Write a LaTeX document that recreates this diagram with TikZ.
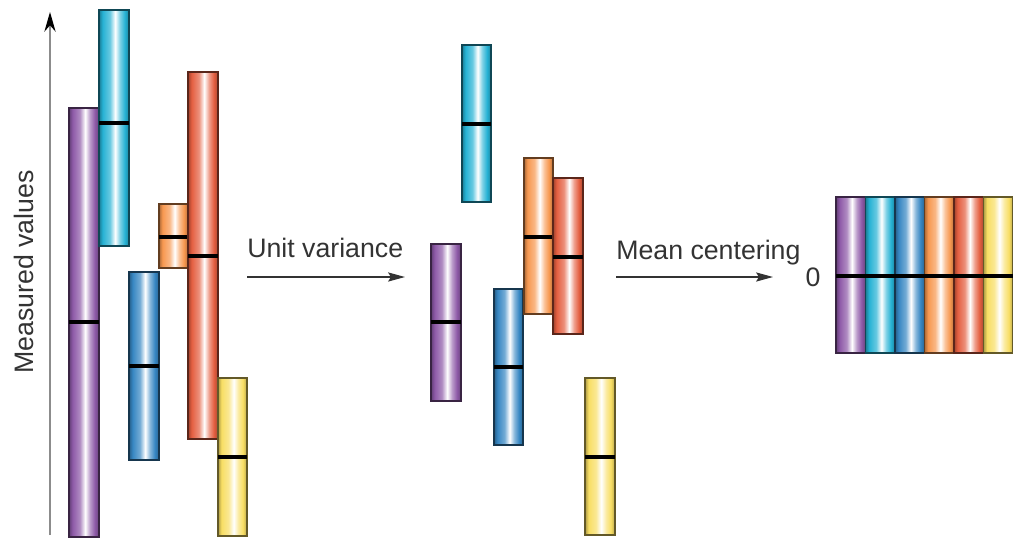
\documentclass[tikz,border=0pt]{standalone}
\usepackage{fontspec}
\setmainfont{Liberation Sans}
\usetikzlibrary{arrows.meta}

\definecolor{mpurple}{RGB}{142,90,168}
\definecolor{mcyan}{RGB}{38,178,212}
\definecolor{mblue}{RGB}{55,135,195}
\definecolor{morange}{RGB}{247,152,80}
\definecolor{mred}{RGB}{228,95,65}
\definecolor{myellow}{RGB}{248,222,100}
\colorlet{barc}{mpurple}

\pgfdeclarehorizontalshading[barc]{barshade}{100bp}{color(0bp)=(barc!70!black); color(25bp)=(barc!70!black); color(31bp)=(barc); color(43bp)=(barc!70!white); color(52bp)=(white); color(60bp)=(barc!60!white); color(68bp)=(barc); color(75bp)=(barc!75!black); color(100bp)=(barc!75!black)}

\tikzset{
	barcol/.code={\colorlet{barc}{#1}},
	bar/.style={barcol=#1, shading=barshade, draw=#1!40!black, line width=0.9pt},
	meanline/.style={line width=2.5pt, black},
	axisline/.style={line width=1pt, black!45, -{Stealth[length=14pt, width=8pt, fill=black, color=black]}},
	flow/.style={line width=1pt, black!80, -{Stealth[length=12pt, width=6.5pt, inset=2pt]}},
	labeltext/.style={font=\fontsize{19}{23}\selectfont, text=black!80, inner sep=0pt}
}

\begin{document}
\begin{tikzpicture}[x=0.025cm, y=-0.025cm]
	\useasboundingbox (0,0) rectangle (1013,539);
	\coordinate (axis foot) at (50,535);
	\coordinate (axis head) at (50,12);
	\draw [axisline] (axis foot) -- (axis head);
	\node [labeltext, rotate=90] (measured) at (24,272) {Measured values};

	\foreach \c/\xa/\xb/\ya/\ym/\yb in {mpurple/69/99/108/322/537, mcyan/99/129/10/123/246, mblue/129/159/272/366/460, morange/159/188/204/237/268, mred/188/218/72/256/439, myellow/218/247/378/457/536}
	{
		\shadedraw [bar=\c] (\xa,\ya) rectangle (\xb,\yb);
		\draw [meanline] (\xa,\ym) -- (\xb,\ym);
	}

	\coordinate (unit start) at (247,277);
	\coordinate (unit end) at (405,277);
	\draw [flow] (unit start) -- (unit end);
	\node [labeltext, anchor=base west] (unit) at (247,257) {Unit variance};

	\foreach \c/\xa/\xb/\ya/\ym/\yb in {mpurple/431/461/244/322/401, mcyan/462/491/45/124/202, mblue/494/523/289/367/445, morange/524/553/158/237/314, mred/553/583/178/257/334, myellow/585/615/378/457/535}
	{
		\shadedraw [bar=\c] (\xa,\ya) rectangle (\xb,\yb);
		\draw [meanline] (\xa,\ym) -- (\xb,\ym);
	}

	\coordinate (mean start) at (616,277);
	\coordinate (mean end) at (773,277);
	\draw [flow] (mean start) -- (mean end);
	\node [labeltext, anchor=base west] (mean) at (616,259) {Mean centering};

	\foreach \c [count=\i from 0] in {mpurple, mcyan, mblue, morange, mred, myellow}
		\shadedraw [bar=\c] ({836+\i*29.5},197) rectangle ({865.5+\i*29.5},353);
	\coordinate (zero left) at (836,276);
	\coordinate (zero right) at (1013,276);
	\draw [meanline] (zero left) -- (zero right);
	\node [labeltext] (zero) at (813,277) {0};
\end{tikzpicture}
\end{document}
